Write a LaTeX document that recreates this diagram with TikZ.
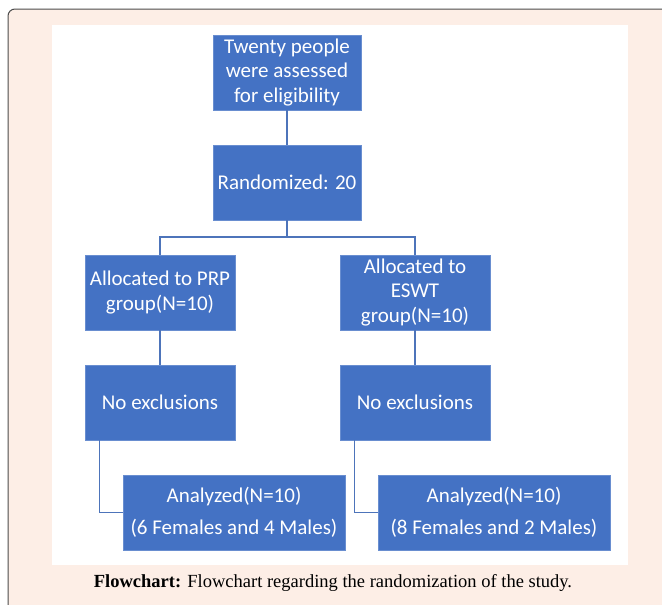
\documentclass[tikz,border=0pt]{standalone}
\usepackage{fontspec}
\setmainfont{Carlito}
\newfontfamily\captionfont{Liberation Serif}
\usetikzlibrary{calc}
\definecolor{boxblue}{HTML}{4472C4}
\definecolor{panelpeach}{HTML}{FDEEE6}
\tikzset{
	box/.style={draw=boxblue!80!white, fill=boxblue, text=white, align=center,
		minimum height=75pt, inner sep=0pt, line width=0.8pt,
		font=\fontsize{21}{24.5}\selectfont},
	link/.style={draw=boxblue!85!gray, line width=1.2pt}
}
\begin{document}
\begin{tikzpicture}[x=1pt,y=-1pt]
	\useasboundingbox (0,0) rectangle (662,605);
	\clip (0,0) rectangle (662,605);
	% frame and panel
	\draw[fill=panelpeach, draw=black!70, line width=1pt, rounded corners=7pt] (8,9) rectangle (680,625);
	\fill[white] (52,25) rectangle (628,565);
	
	% top boxes
	\node[box, minimum width=148pt] (assess) at (287,72.5) {Twenty people\\were assessed\\for eligibility};
	\node[box, minimum width=148pt] (random) at (287,182.5) {Randomized: 20};
	
	% allocation
	\node[box, minimum width=150pt] (prp) at (160,292.5) {Allocated to PRP\\group(N=10)};
	\node[box, minimum width=150pt] (eswt) at (415,292.5) {Allocated to\\ESWT\\group(N=10)};
	
	% exclusions
	\node[box, minimum width=150pt] (prpexcl) at (160,402.5) {No exclusions};
	\node[box, minimum width=150pt] (eswtexcl) at (415,402.5) {No exclusions};
	
	% analysis
	\node[box, minimum width=222pt] (prpan) at (234,512.5) {Analyzed(N=10)\\[7pt](6 Females and 4 Males)};
	\node[box, minimum width=232pt] (eswtan) at (494,512.5) {Analyzed(N=10)\\[7pt](8 Females and 2 Males)};
	
	% connectors
	\coordinate (fork) at (287,237);
	\draw[link] (assess) -- (random);
	\draw[link] (random) -- (fork) -| (prp);
	\draw[link] (fork) -| (eswt);
	\draw[link] (prp) -- (prpexcl);
	\draw[link] (eswt) -- (eswtexcl);
	\draw[link] ([xshift=15pt]prpexcl.south west) |- (prpan);
	\draw[link] ([xshift=15pt]eswtexcl.south west) |- (eswtan);
	
	% caption
	\node[font=\captionfont\fontsize{18.5}{21}\selectfont] (caption) at (333,583)
	{\textbf{Flowchart:} Flowchart regarding the randomization of the study.};
\end{tikzpicture}
\end{document}
